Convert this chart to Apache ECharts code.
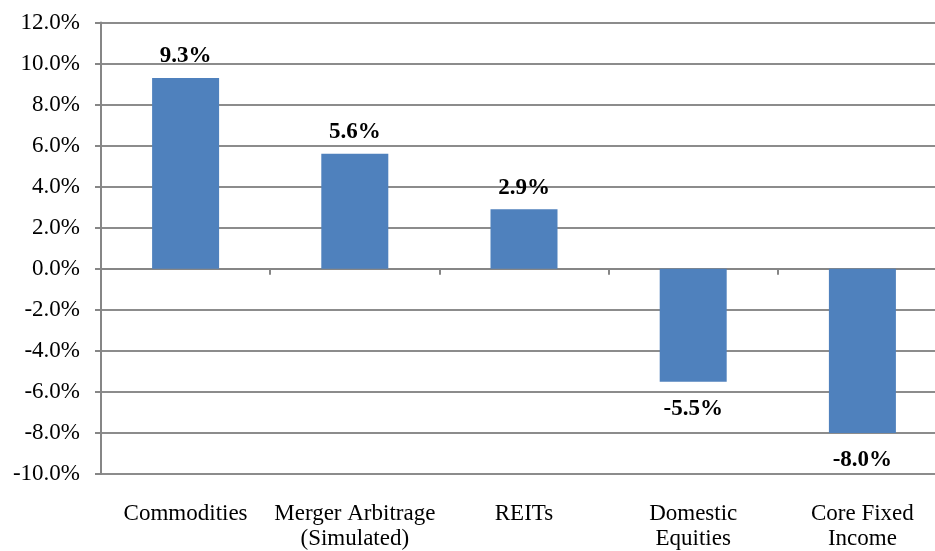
<!DOCTYPE html>
<html>
<head>
<meta charset="utf-8">
<script src="https://cdn.jsdelivr.net/npm/echarts@6/dist/echarts.min.js"></script>
<style>
html,body{margin:0;padding:0;background:#fff;}
#chart{width:935px;height:551px;}
</style>
</head>
<body>
<div id="chart"></div>
<script>
var categories = ['Commodities', 'Merger Arbitrage\n(Simulated)', 'REITs', 'Domestic\nEquities', 'Core Fixed\nIncome'];
var values = [9.3, 5.6, 2.9, -5.5, -8.0];
var yTicks = [-10, -8, -6, -4, -2, 0, 2, 4, 6, 8, 10, 12];

var FONT = '"Liberation Serif", "Times New Roman", serif';
var chart = echarts.init(document.getElementById('chart'), null, {renderer: 'canvas'});

var seriesData = values.map(function (v) {
  return {
    value: v,
    label: {
      position: v >= 0 ? 'top' : 'bottom',
      distance: v >= 0 ? 10 : 16
    }
  };
});

chart.setOption({
  animation: false,
  backgroundColor: '#ffffff',
  grid: {left: 101, top: 22.5, width: 846, height: 451.5, containLabel: false, outerBoundsMode: 'none'},
  xAxis: [{
    type: 'category',
    data: categories,
    position: 'bottom',
    axisLine: {show: false, onZero: false},
    axisTick: {show: false},
    axisLabel: {
      margin: 27,
      interval: 0,
      hideOverlap: false,
      color: '#000',
      fontFamily: FONT,
      fontSize: 23,
      lineHeight: 25
    },
    splitLine: {show: false}
  }, {
    type: 'category',
    data: categories,
    position: 'bottom',
    axisLine: {show: true, onZero: true, lineStyle: {color: '#868686', width: 2}},
    axisTick: {show: true, length: 6, lineStyle: {color: '#868686', width: 2}},
    axisLabel: {show: false},
    splitLine: {show: false}
  }],
  yAxis: {
    type: 'value',
    min: yTicks[0],
    max: yTicks[yTicks.length - 1],
    interval: 2,
    axisLine: {show: true, lineStyle: {color: '#868686', width: 2}},
    axisTick: {show: true, length: 6, lineStyle: {color: '#868686', width: 2}},
    axisLabel: {
      margin: 21,
      color: '#000',
      fontFamily: FONT,
      fontSize: 23,
      formatter: function (v) { return v.toFixed(1) + '%'; }
    },
    splitLine: {show: true, lineStyle: {color: '#8c8c8c', width: 2}}
  },
  series: [{
    type: 'bar',
    data: seriesData,
    barWidth: 67,
    itemStyle: {color: '#4F81BD'},
    label: {
      show: true,
      color: '#000',
      fontFamily: FONT,
      fontSize: 23,
      fontWeight: 'bold',
      formatter: function (p) { return p.value.toFixed(1) + '%'; }
    }
  }]
});
</script>
</body>
</html>
